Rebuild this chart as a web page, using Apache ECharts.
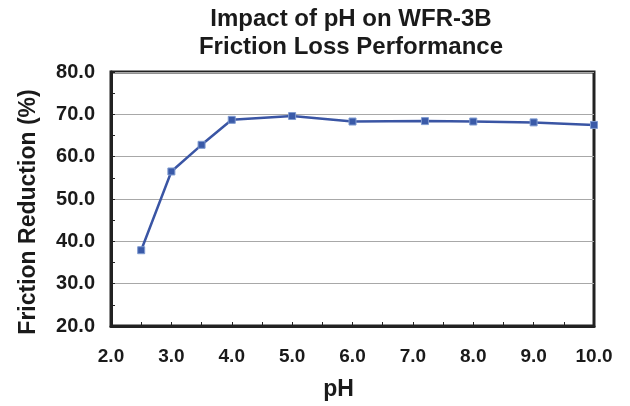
<!DOCTYPE html>
<html>
<head>
<meta charset="utf-8">
<script src="https://cdn.jsdelivr.net/npm/echarts@6/dist/echarts.min.js"></script>
<style>html,body{margin:0;padding:0;background:#fff;}#c{width:630px;height:406px;}</style>
</head>
<body>
<div id="c"></div>
<script>
const phValues = [2.5, 3.0, 3.5, 4.0, 5.0, 6.0, 7.2, 8.0, 9.0, 10.0];
const frictionReduction = [37.9, 56.5, 62.8, 68.7, 69.6, 68.3, 68.4, 68.3, 68.1, 67.5];
const titleLines = ['Impact of pH on WFR-3B', 'Friction Loss Performance'];

const font = '"Liberation Sans", Arial, sans-serif';
const chart = echarts.init(document.getElementById('c'), null, {renderer: 'canvas'});
chart.setOption({
  animation: false,
  backgroundColor: '#fff',
  title: {
    text: titleLines.join('\n'),
    left: 346, top: 0, textAlign: 'center',
    textStyle: {fontFamily: font, fontWeight: 'bold', fontSize: 24, color: '#1a1a1a', lineHeight: 28}
  },
  grid: {left: 111, right: 36, top: 72, bottom: 80, show: true, borderColor: '#222', borderWidth: 3, backgroundColor: 'transparent'},
  xAxis: {
    type: 'value', min: 2, max: 10, interval: 1,
    name: 'pH', nameLocation: 'middle', nameGap: 52,
    nameTextStyle: {fontFamily: font, fontWeight: 'bold', fontSize: 23, color: '#1a1a1a', padding: [0, 28, 0, 0]},
    axisLine: {show: true, lineStyle: {color: '#222', width: 3}},
    axisTick: {show: true, inside: true, length: 4, lineStyle: {color: '#222', width: 1}},
    minorTick: {show: true, splitNumber: 2, length: 4, lineStyle: {color: '#222', width: 1}},
    splitLine: {show: false},
    axisLabel: {fontFamily: font, fontWeight: 'bold', fontSize: 19, color: '#1a1a1a', margin: 21,
      formatter: v => v.toFixed(1)}
  },
  yAxis: {
    type: 'value', min: 20, max: 80, interval: 10,
    name: 'Friction Reduction (%)', nameLocation: 'middle', nameGap: 71, nameRotate: 90,
    nameTextStyle: {fontFamily: font, fontWeight: 'bold', fontSize: 23, color: '#1a1a1a', padding: [0, 26, 0, 0]},
    axisLine: {show: true, lineStyle: {color: '#222', width: 3}},
    axisTick: {show: true, inside: true, length: 4, lineStyle: {color: '#222', width: 1}},
    minorTick: {show: true, splitNumber: 2, length: 4, lineStyle: {color: '#222', width: 1}},
    splitLine: {show: true, lineStyle: {color: '#a8a8a8', width: 1}},
    axisLabel: {fontFamily: font, fontWeight: 'bold', fontSize: 20, color: '#1a1a1a', margin: 16,
      formatter: v => v.toFixed(1)}
  },
  series: [{
    type: 'line',
    data: phValues.map((x, i) => [x, frictionReduction[i]]),
    symbol: 'rect', symbolSize: 7,
    lineStyle: {color: '#3a55a4', width: 2.5},
    itemStyle: {color: '#3a5aa8', borderColor: '#7f9bd0', borderWidth: 1},
    z: 3
  }]
});
</script>
</body>
</html>
